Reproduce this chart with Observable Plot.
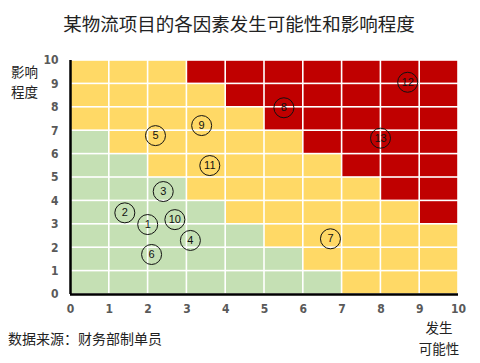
<!DOCTYPE html>
<html><head><meta charset="utf-8">
<script src="https://cdn.jsdelivr.net/npm/d3@7"></script>
<script src="https://cdn.jsdelivr.net/npm/@observablehq/plot@0.6"></script>
<style>
body{margin:0;background:#fff;}
#wrap{position:relative;width:480px;height:363px;overflow:hidden;font-family:"Noto Sans CJK SC",sans-serif;color:#222;}
#title{position:absolute;left:0;width:478px;top:10px;text-align:center;font-size:18.5px;line-height:26px;}
.lab{position:absolute;font-size:13.5px;line-height:20px;white-space:nowrap;}
#cap{position:absolute;left:8px;top:328px;font-size:14px;line-height:20px;}
#chart{position:absolute;left:0;top:0;}
</style></head>
<body>
<div id="wrap">
<div id="chart"></div>
<div id="title">某物流项目的各因素发生可能性和影响程度</div>
<div class="lab" style="left:11px;top:61px;">影响</div>
<div class="lab" style="left:11px;top:81px;">程度</div>
<div class="lab" style="left:412px;width:54px;text-align:center;top:317px;">发生</div>
<div class="lab" style="left:412px;width:54px;text-align:center;top:338px;">可能性</div>
<div id="cap">数据来源：财务部制单员</div>
</div>
<script>
// Risk zones per row (row 0 = impact 0-1 at bottom); G=green, Y=yellow, R=red; one char per likelihood column 0..9
const zoneRows = [
  "GGGGGGGYYY",
  "GGGGGGYYYY",
  "GGGGGYYYYY",
  "GGGGYYYYYR",
  "GGGYYYYYRR",
  "GGYYYYYRRR",
  "GYYYYYRRRR",
  "YYYYYRRRRR",
  "YYYYRRRRRR",
  "YYYRRRRRRR"
];
const zoneCodes = ["G", "Y", "R"];
const zoneColors = ["#c5e0b4", "#ffd966", "#c00000"];

// Factors: likelihood (x), impact (y)
const factorIds = ["1","2","3","4","5","6","7","8","9","10","11","12","13"];
const likelihood = [1.99, 1.40, 2.39, 3.09, 2.19, 2.09, 6.70, 5.50, 3.38, 2.69, 3.59, 8.69, 7.99];
const impact =     [2.99, 3.49, 4.40, 2.31, 6.79, 1.71, 2.38, 7.98, 7.22, 3.20, 5.51, 9.07, 6.68];

const xTicks = [0,1,2,3,4,5,6,7,8,9,10];
const yTicks = [0,1,2,3,4,5,6,7,8,9,10];

const cells = [];
zoneRows.forEach((row, r) => row.split("").forEach((c, k) => cells.push({x1: k, x2: k + 1, y1: r, y2: r + 1, zone: c})));
const factors = factorIds.map((id, i) => ({id, x: likelihood[i], y: impact[i]}));

const tickFont = '"Liberation Sans Narrow","DejaVu Sans Condensed","Liberation Sans",sans-serif';

const chart = Plot.plot({
  width: 480,
  height: 363,
  marginTop: 60,
  marginBottom: 69,
  marginLeft: 70,
  marginRight: 22,
  style: {background: "#fff", fontFamily: tickFont},
  x: {domain: [0, 10], ticks: xTicks},
  y: {domain: [0, 10], ticks: yTicks},
  color: {domain: zoneCodes, range: zoneColors},
  marks: [
    Plot.rect(cells, {x1: "x1", x2: "x2", y1: "y1", y2: "y2", fill: "zone", inset: 0.8}),
    Plot.axisX({ticks: xTicks, tickSize: 0, tickPadding: 10, fontSize: 12, fontWeight: "bold", fill: "#595959", label: null}),
    Plot.axisY({ticks: yTicks, tickSize: 0, tickPadding: 12, fontSize: 12, fontWeight: "bold", fill: "#595959", label: null}),
    Plot.ruleX([0], {stroke: "#000", strokeWidth: 2.5}),
    Plot.ruleY([0], {stroke: "#000", strokeWidth: 2.5}),
    Plot.dot(factors, {x: "x", y: "y", r: 10, stroke: "#111", strokeWidth: 1, fill: "none"}),
    Plot.text(factors, {x: "x", y: "y", text: "id", fontSize: 11, fill: "#111", fontFamily: '"Liberation Sans",Arial,sans-serif'})
  ]
});
document.getElementById("chart").appendChild(chart);
</script>
</body></html>
